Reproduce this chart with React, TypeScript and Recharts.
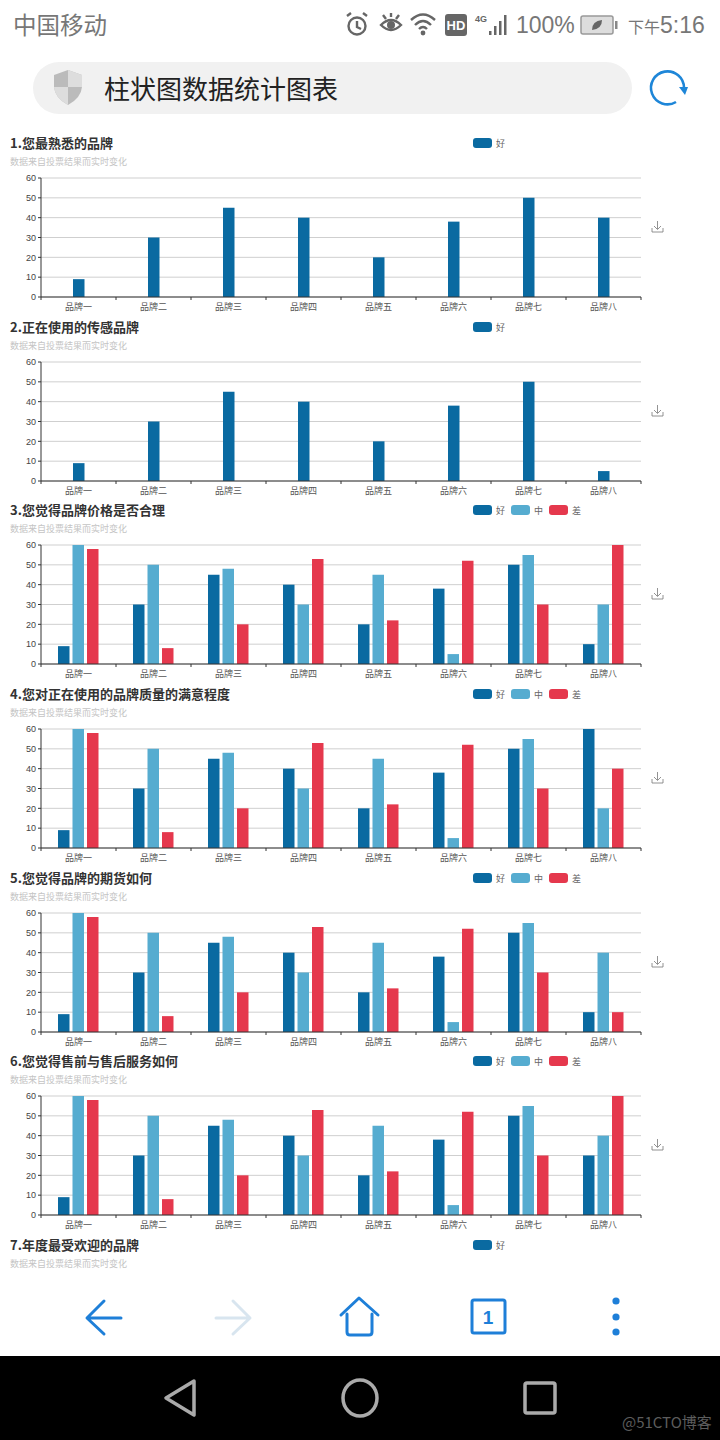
import React from "react";
import { BarChart, Bar, XAxis, YAxis, CartesianGrid, Legend } from "recharts";

const FONT = '"Noto Sans CJK SC", "Noto Sans", sans-serif';
const NUM_FONT = '"Liberation Sans", Arial, sans-serif';

const brands = ["品牌一", "品牌二", "品牌三", "品牌四", "品牌五", "品牌六", "品牌七", "品牌八"];
const yTicks = [0, 10, 20, 30, 40, 50, 60];

const titles = [
  "1.您最熟悉的品牌",
  "2.正在使用的传感品牌",
  "3.您觉得品牌价格是否合理",
  "4.您对正在使用的品牌质量的满意程度",
  "5.您觉得品牌的期货如何",
  "6.您觉得售前与售后服务如何",
];
const lastTitle = "7.年度最受欢迎的品牌";
const subtitle = "数据来自投票结果而实时变化";

const good1 = [9, 30, 45, 40, 20, 38, 50, 40];
const good2 = [9, 30, 45, 40, 20, 38, 50, 5];
const good3 = [9, 30, 45, 40, 20, 38, 50, 10];
const mid3 = [60, 50, 48, 30, 45, 5, 55, 30];
const bad3 = [58, 8, 20, 53, 22, 52, 30, 60];
const good4 = [9, 30, 45, 40, 20, 38, 50, 60];
const mid4 = [60, 50, 48, 30, 45, 5, 55, 20];
const bad4 = [58, 8, 20, 53, 22, 52, 30, 40];
const good5 = [9, 30, 45, 40, 20, 38, 50, 10];
const mid5 = [60, 50, 48, 30, 45, 5, 55, 40];
const bad5 = [58, 8, 20, 53, 22, 52, 30, 10];
const good6 = [9, 30, 45, 40, 20, 38, 50, 30];
const mid6 = [60, 50, 48, 30, 45, 5, 55, 40];
const bad6 = [58, 8, 20, 53, 22, 52, 30, 60];

const charts = [
  { good: good1 },
  { good: good2 },
  { good: good3, mid: mid3, bad: bad3 },
  { good: good4, mid: mid4, bad: bad4 },
  { good: good5, mid: mid5, bad: bad5 },
  { good: good6, mid: mid6, bad: bad6 },
];

const sectionTops = [130, 314, 497, 681, 865, 1048];
const lastTop = 1232;

const COLORS = { good: "#0a6aa1", mid: "#56acd0", bad: "#e5384d" };
const NAMES = { good: "好", mid: "中", bad: "差" };
const BAND = 75;

function LegendRow({ keys }: { keys: string[] }) {
  return (
    <div style={{ display: "flex", alignItems: "center", height: 12 }}>
      {keys.map((k) => (
        <div key={k} style={{ display: "flex", alignItems: "center", width: 38 }}>
          <div style={{ width: 19, height: 10, borderRadius: 3, background: COLORS[k] }} />
          <span style={{ fontSize: 9, color: "#666", marginLeft: 4, fontFamily: FONT }}>{NAMES[k]}</span>
        </div>
      ))}
    </div>
  );
}

function BrandTick({ x, y, payload, index }: any) {
  return (
    <g>
      <line x1={x - BAND / 2} x2={x - BAND / 2} y1={y} y2={y + 3} stroke="#333" strokeWidth={1} />
      {index === brands.length - 1 && (
        <line x1={x + BAND / 2} x2={x + BAND / 2} y1={y} y2={y + 3} stroke="#333" strokeWidth={1} />
      )}
      <text x={x} y={y + 13} textAnchor="middle" fontSize={9} fill="#555" fontFamily={FONT}>
        {payload.value}
      </text>
    </g>
  );
}

function DownloadIcon() {
  return (
    <svg width="14" height="14" style={{ position: "absolute", left: 651, top: 90 }}>
      <path d="M1 8 L1 12 L12 12 L12 8 M6.5 1 L6.5 9 M3 6 L6.5 9.5 L10 6" fill="none" stroke="#777" strokeWidth="0.8" />
    </svg>
  );
}

function Heading({ title }: { title: string }) {
  return (
    <>
      <div
        style={{
          position: "absolute",
          left: 10,
          top: 3,
          fontSize: 13,
          lineHeight: "20px",
          fontWeight: 700,
          color: "#333",
          fontFamily: FONT,
          whiteSpace: "nowrap",
        }}
      >
        {title}
      </div>
      <div
        style={{
          position: "absolute",
          left: 10,
          top: 26,
          fontSize: 9,
          lineHeight: "12px",
          color: "#c4c4c4",
          fontFamily: FONT,
          whiteSpace: "nowrap",
        }}
      >
        {subtitle}
      </div>
    </>
  );
}

function Section({ top, title, chart }: any) {
  const data = brands.map((name, i) => ({
    name,
    good: chart.good[i],
    mid: chart.mid ? chart.mid[i] : undefined,
    bad: chart.bad ? chart.bad[i] : undefined,
  }));
  const keys = chart.mid ? ["good", "mid", "bad"] : ["good"];
  return (
    <div style={{ position: "absolute", left: 0, top, width: 720, height: 207 }}>
      <BarChart
        width={720}
        height={207}
        data={data}
        margin={{ top: 48, right: 79, bottom: 8, left: 0 }}
        barSize={11.5}
        barGap={3}
      >
        <CartesianGrid vertical={false} stroke="#cfcfcf" strokeWidth={1} />
        <XAxis
          dataKey="name"
          interval={0}
          height={20}
          tickLine={false}
          tickSize={0}
          tickMargin={0}
          axisLine={{ stroke: "#333" }}
          tick={BrandTick}
        />
        <YAxis
          width={41}
          domain={[0, 60]}
          ticks={yTicks}
          interval={0}
          tickSize={3}
          tickMargin={2}
          axisLine={{ stroke: "#333" }}
          tickLine={{ stroke: "#333" }}
          tick={{ fontSize: 9, fill: "#444", fontFamily: NUM_FONT }}
        />
        <Legend
          content={() => <LegendRow keys={keys} />}
          wrapperStyle={{ position: "absolute", left: 473, top: 7, width: 130, bottom: "auto" }}
        />
        {keys.map((k) => (
          <Bar key={k} dataKey={k} name={NAMES[k]} fill={COLORS[k]} isAnimationActive={false} />
        ))}
      </BarChart>
      <Heading title={title} />
      <DownloadIcon />
    </div>
  );
}

function StatusBar() {
  return (
    <>
      <div style={{ position: "absolute", left: 13, top: 8, fontSize: 23.5, lineHeight: "32px", color: "#777", fontFamily: FONT }}>
        中国移动
      </div>
      <svg width="720" height="50" style={{ position: "absolute", left: 0, top: 0 }}>
        <g fill="none" stroke="#666" strokeWidth="2.4">
          <circle cx="357" cy="26" r="8.5" />
          <path d="M357 21 L357 27 L361 29 M347 16 L351 13 M367 16 L363 13" />
          <path d="M381 25 Q391 15 401 25 Q391 35 381 25 Z" />
          <path d="M383 15 L386 19 M391 13 L391 17 M399 15 L396 19" />
          <path d="M411 20 Q423 9 435 20 M415 25 Q423 17 431 25 M419 29 Q423 25 427 29" />
        </g>
        <circle cx="391" cy="25" r="4" fill="#666" />
        <circle cx="423" cy="33" r="2.4" fill="#666" />
        <rect x="445" y="14" width="22" height="22" rx="3" fill="#666" />
        <text x="456" y="30" textAnchor="middle" fontSize="13" fontWeight="700" fill="#fff" fontFamily={NUM_FONT}>HD</text>
        <text x="475" y="22" fontSize="9" fontWeight="700" fill="#666" fontFamily={NUM_FONT}>4G</text>
        <g fill="#666">
          <rect x="489" y="31" width="2.5" height="4" />
          <rect x="494" y="26" width="2.5" height="9" />
          <rect x="499" y="21" width="2.5" height="14" />
          <rect x="504" y="15" width="2.5" height="20" />
        </g>
        <text x="516" y="33" fontSize="23" fill="#777" fontFamily={NUM_FONT}>100%</text>
        <rect x="581" y="16" width="32" height="18" rx="2" fill="#ddd" stroke="#999" strokeWidth="1.5" />
        <rect x="615" y="21" width="2.5" height="8" fill="#888" />
        <path d="M592 30 Q592 21 602 20 Q602 29 592 30 Z" fill="#666" />
        <text x="628" y="33" fontSize="16" fill="#777" fontFamily={FONT}>下午</text>
        <text x="660" y="33" fontSize="23" fill="#777" fontFamily={NUM_FONT}>5:16</text>
      </svg>
    </>
  );
}

function UrlBar() {
  return (
    <>
      <div style={{ position: "absolute", left: 33, top: 62, width: 599, height: 52, borderRadius: 26, background: "#f1f1f1" }} />
      <svg width="720" height="60" style={{ position: "absolute", left: 0, top: 60 }}>
        <path d="M68 10 L82 15 L82 27 Q81 38 68 45 Q55 38 54 27 L54 15 Z" fill="#bbb" />
        <path d="M68 10 L68 27 L82 27 L82 15 Z M68 27 L54 27 Q55 38 68 45 Z" fill="#ddd" />
        <path d="M684 28 A16.5 16.5 0 1 0 676 42" fill="none" stroke="#1e86d8" strokeWidth="2.6" />
        <path d="M679 27 L688 27 L685 35 Z" fill="#1e86d8" />
      </svg>
      <div style={{ position: "absolute", left: 104, top: 70, fontSize: 26, lineHeight: "36px", color: "#222", fontFamily: FONT, whiteSpace: "nowrap" }}>
        柱状图数据统计图表
      </div>
    </>
  );
}

function BottomBars() {
  return (
    <>
      <div style={{ position: "absolute", left: 0, top: 1276, width: 720, height: 80, background: "#fff" }} />
      <svg width="720" height="164" style={{ position: "absolute", left: 0, top: 1276 }}>
        <g fill="none" strokeWidth="3" strokeLinecap="round" strokeLinejoin="round">
          <path d="M121 42 L88 42 M104 25 L87 42 L104 58" stroke="#1e7fd8" />
          <path d="M216 42 L249 42 M233 25 L250 42 L233 58" stroke="#d8e5ef" />
          <path d="M341 39 L359 22 L378 39 M347 38 L347 56 Q347 59 350 59 L369 59 Q372 59 372 56 L372 38" stroke="#1e7fd8" />
          <rect x="472" y="24" width="33" height="33" rx="2" stroke="#1e7fd8" />
        </g>
        <text x="488" y="48" textAnchor="middle" fontSize="19" fontWeight="700" fill="#1e7fd8" fontFamily={NUM_FONT}>1</text>
        <circle cx="616" cy="25" r="3.6" fill="#1e7fd8" />
        <circle cx="616" cy="41" r="3.6" fill="#1e7fd8" />
        <circle cx="616" cy="56" r="3.6" fill="#1e7fd8" />
        <rect x="0" y="80" width="720" height="84" fill="#000" />
        <g fill="none" stroke="#aaa" strokeWidth="3.5" strokeLinejoin="round">
          <path d="M194 105 L166 122 L194 139 Z" />
          <ellipse cx="360" cy="122" rx="17" ry="18" />
          <rect x="525" y="107" width="30" height="30" rx="2" />
        </g>
        <text x="622" y="152" fontSize="15" fill="#5c5c5c" fontFamily={FONT}>@51CTO博客</text>
      </svg>
    </>
  );
}

export default function App() {
  return (
    <div style={{ position: "absolute", left: 0, top: 0, width: 720, height: 1440, background: "#fff", overflow: "hidden" }}>
      <StatusBar />
      <UrlBar />
      {charts.map((chart, i) => (
        <Section key={i} top={sectionTops[i]} title={titles[i]} chart={chart} />
      ))}
      <div style={{ position: "absolute", left: 0, top: lastTop, width: 720, height: 44 }}>
        <Heading title={lastTitle} />
        <div style={{ position: "absolute", left: 473, top: 7 }}>
          <LegendRow keys={["good"]} />
        </div>
      </div>
      <BottomBars />
    </div>
  );
}
